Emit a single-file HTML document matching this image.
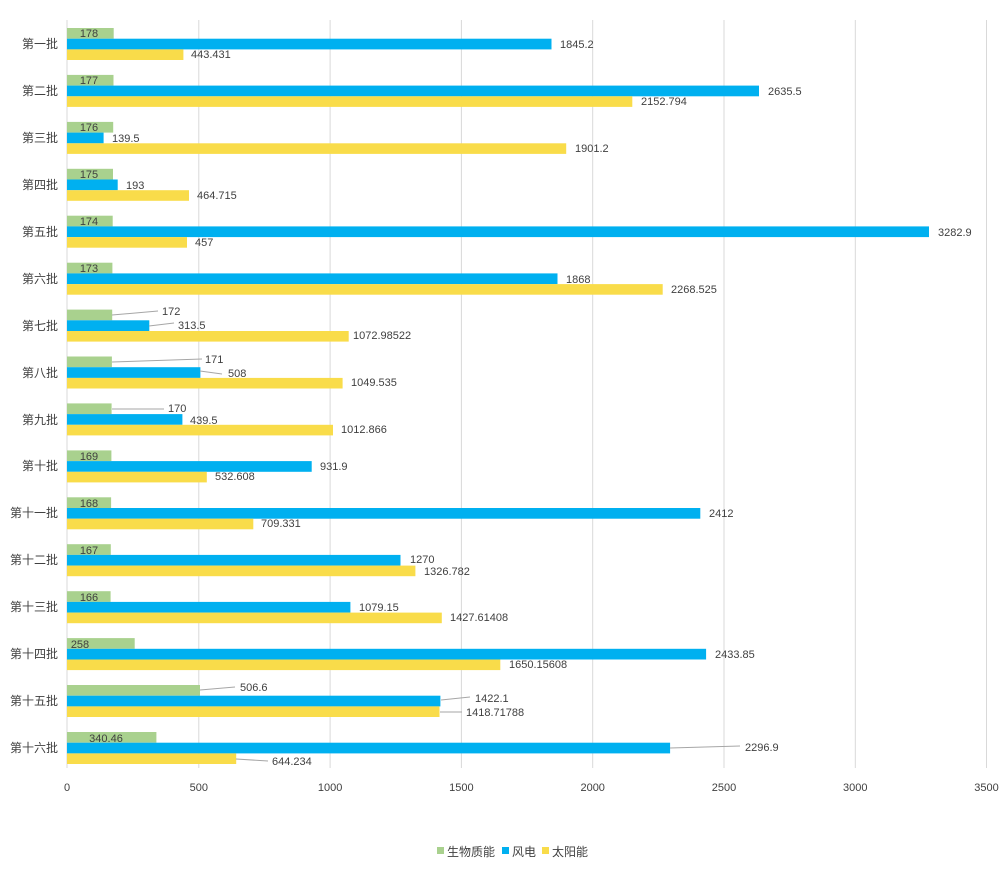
<!DOCTYPE html>
<html><head><meta charset="utf-8"><style>
body{margin:0;background:#fff}
text{font-family:"Liberation Sans","Noto Sans CJK SC",sans-serif;font-size:11px;fill:#404040}
.c{font-size:12px}
</style></head><body>
<svg width="1006" height="868" xmlns="http://www.w3.org/2000/svg">
<g stroke="#d9d9d9" stroke-width="1">
<line x1="198.8" y1="20" x2="198.8" y2="768"/><line x1="330.1" y1="20" x2="330.1" y2="768"/><line x1="461.4" y1="20" x2="461.4" y2="768"/><line x1="592.7" y1="20" x2="592.7" y2="768"/><line x1="724" y1="20" x2="724" y2="768"/><line x1="855.3" y1="20" x2="855.3" y2="768"/><line x1="986.5" y1="20" x2="986.5" y2="768"/>
<line x1="67" y1="20" x2="67" y2="768"/>
</g>
<g font-size="11" text-anchor="middle">
<text x="67" y="791">0</text><text x="198.8" y="791">500</text><text x="330.1" y="791">1000</text><text x="461.4" y="791">1500</text><text x="592.7" y="791">2000</text><text x="724" y="791">2500</text><text x="855.3" y="791">3000</text><text x="986.5" y="791">3500</text>
</g>
<g>
<!-- bars -->
<g fill="#a9d18e">
<rect x="67" y="28" width="46.7" height="10.7"/><rect x="67" y="74.9" width="46.5" height="10.7"/><rect x="67" y="121.9" width="46.2" height="10.7"/><rect x="67" y="168.8" width="46" height="10.7"/><rect x="67" y="215.7" width="45.7" height="10.7"/><rect x="67" y="262.7" width="45.4" height="10.7"/><rect x="67" y="309.6" width="45.2" height="10.7"/><rect x="67" y="356.5" width="44.9" height="10.7"/><rect x="67" y="403.4" width="44.6" height="10.7"/><rect x="67" y="450.4" width="44.4" height="10.7"/><rect x="67" y="497.3" width="44.1" height="10.7"/><rect x="67" y="544.2" width="43.8" height="10.7"/><rect x="67" y="591.2" width="43.6" height="10.7"/><rect x="67" y="638.1" width="67.7" height="10.7"/><rect x="67" y="685" width="133" height="10.7"/><rect x="67" y="732" width="89.4" height="10.7"/>
</g>
<g fill="#00b0f0">
<rect x="67" y="38.7" width="484.5" height="10.7"/><rect x="67" y="85.6" width="692" height="10.7"/><rect x="67" y="132.6" width="36.6" height="10.7"/><rect x="67" y="179.5" width="50.7" height="10.7"/><rect x="67" y="226.4" width="862" height="10.7"/><rect x="67" y="273.4" width="490.5" height="10.7"/><rect x="67" y="320.3" width="82.3" height="10.7"/><rect x="67" y="367.2" width="133.4" height="10.7"/><rect x="67" y="414.1" width="115.4" height="10.7"/><rect x="67" y="461.1" width="244.7" height="10.7"/><rect x="67" y="508" width="633.3" height="10.7"/><rect x="67" y="554.9" width="333.5" height="10.7"/><rect x="67" y="601.9" width="283.4" height="10.7"/><rect x="67" y="648.8" width="639.1" height="10.7"/><rect x="67" y="695.7" width="373.4" height="10.7"/><rect x="67" y="742.7" width="603.1" height="10.7"/>
</g>
<g fill="#f9dc4a">
<rect x="67" y="49.4" width="116.4" height="10.6"/><rect x="67" y="96.3" width="565.3" height="10.6"/><rect x="67" y="143.3" width="499.2" height="10.6"/><rect x="67" y="190.2" width="122" height="10.6"/><rect x="67" y="237.1" width="120" height="10.6"/><rect x="67" y="284.1" width="595.7" height="10.6"/><rect x="67" y="331" width="281.7" height="10.6"/><rect x="67" y="377.9" width="275.6" height="10.6"/><rect x="67" y="424.8" width="266" height="10.6"/><rect x="67" y="471.8" width="139.8" height="10.6"/><rect x="67" y="518.7" width="186.3" height="10.6"/><rect x="67" y="565.6" width="348.4" height="10.6"/><rect x="67" y="612.6" width="374.8" height="10.6"/><rect x="67" y="659.5" width="433.3" height="10.6"/><rect x="67" y="706.4" width="372.5" height="10.6"/><rect x="67" y="753.4" width="169.2" height="10.6"/>
</g>
<!-- leader lines -->
<g stroke="#a6a6a6" stroke-width="1" fill="none">
<line x1="112" y1="315" x2="158" y2="311"/><line x1="149" y1="326" x2="174" y2="323"/>
<line x1="112" y1="362" x2="202" y2="359"/><line x1="200" y1="371" x2="222" y2="374"/>
<line x1="112" y1="409" x2="164" y2="409"/>
<line x1="200" y1="690" x2="235" y2="687"/><line x1="441" y1="700" x2="470" y2="697"/><line x1="440" y1="712" x2="462" y2="712"/>
<line x1="670" y1="748" x2="740" y2="746"/><line x1="236" y1="759" x2="268" y2="761"/>
</g>
<!-- category labels -->
<g class="c" text-anchor="end">
<text class="c" x="58" y="48">第一批</text><text class="c" x="58" y="95">第二批</text><text class="c" x="58" y="142">第三批</text><text class="c" x="58" y="189">第四批</text><text class="c" x="58" y="236">第五批</text><text class="c" x="58" y="283">第六批</text><text class="c" x="58" y="330">第七批</text><text class="c" x="58" y="377">第八批</text><text class="c" x="58" y="424">第九批</text><text class="c" x="58" y="470">第十批</text><text class="c" x="58" y="517">第十一批</text><text class="c" x="58" y="564">第十二批</text><text class="c" x="58" y="611">第十三批</text><text class="c" x="58" y="658">第十四批</text><text class="c" x="58" y="705">第十五批</text><text class="c" x="58" y="752">第十六批</text>
</g>
<!-- green labels -->
<g text-anchor="middle">
<text x="89" y="37">178</text><text x="89" y="84">177</text><text x="89" y="131">176</text><text x="89" y="178">175</text><text x="89" y="225">174</text><text x="89" y="272">173</text><text x="89" y="460">169</text><text x="89" y="507">168</text><text x="89" y="554">167</text><text x="89" y="601">166</text><text x="80" y="648">258</text><text x="106" y="742">340.46</text>
</g>
<text x="162" y="315">172</text><text x="205" y="363">171</text><text x="168" y="412">170</text><text x="240" y="691">506.6</text>
<!-- blue labels -->
<text x="560" y="48">1845.2</text><text x="768" y="95">2635.5</text><text x="112" y="142">139.5</text><text x="126" y="189">193</text><text x="938" y="236">3282.9</text><text x="566" y="283">1868</text><text x="178" y="329">313.5</text><text x="228" y="377">508</text><text x="190" y="424">439.5</text><text x="320" y="470">931.9</text><text x="709" y="517">2412</text><text x="410" y="563">1270</text><text x="359" y="611">1079.15</text><text x="715" y="658">2433.85</text><text x="475" y="702">1422.1</text><text x="745" y="751">2296.9</text>
<!-- yellow labels -->
<text x="191" y="58">443.431</text><text x="641" y="105">2152.794</text><text x="575" y="152">1901.2</text><text x="197" y="199">464.715</text><text x="195" y="246">457</text><text x="671" y="293">2268.525</text><text x="353" y="339">1072.98522</text><text x="351" y="386">1049.535</text><text x="341" y="433">1012.866</text><text x="215" y="480">532.608</text><text x="261" y="527">709.331</text><text x="424" y="575">1326.782</text><text x="450" y="621">1427.61408</text><text x="509" y="668">1650.15608</text><text x="466" y="716">1418.71788</text><text x="272" y="765">644.234</text>
</g>
<!-- legend -->
<rect x="437" y="847" width="7" height="7" fill="#a9d18e"/><text x="447" y="856" class="c">生物质能</text>
<rect x="502" y="847" width="7" height="7" fill="#00b0f0"/><text x="512" y="856" class="c">风电</text>
<rect x="542" y="847" width="7" height="7" fill="#f9dc4a"/><text x="552" y="856" class="c">太阳能</text>
</svg>
</body></html>
